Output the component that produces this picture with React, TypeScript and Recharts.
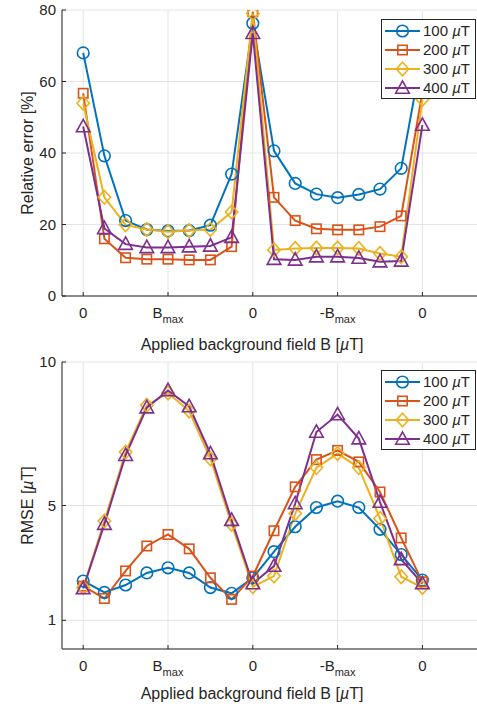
import { LineChart, Line, XAxis, YAxis, CartesianGrid } from 'recharts';

// field steps along the sweep 0 -> Bmax -> 0 -> -Bmax -> 0
const steps = [0, 1, 2, 3, 4, 5, 6, 7, 8, 9, 10, 11, 12, 13, 14, 15, 16];
const xTicks = [0, 4, 8, 12, 16];
const xTickLabels = ['0', 'B|max', '0', '-B|max', '0'];

const amplitudes = [100, 200, 300, 400];

const relErr100 = [68, 39.2, 21.1, 18.6, 18.2, 18.3, 19.8, 34.1, 76.3, 40.6, 31.5, 28.5, 27.5, 28.4, 29.9, 35.7, 68];
const relErr200 = [56.7, 16.0, 10.7, 10.3, 10.3, 10.1, 10.1, 13.8, 79.5, 27.6, 21.1, 18.8, 18.5, 18.5, 19.4, 22.4, 57];
const relErr300 = [53.9, 27.6, 19.9, 18.6, 18.0, 18.3, 18.6, 23.5, 79, 12.9, 13.3, 13.4, 13.4, 13.3, 11.9, 11.0, 55];
const relErr400 = [47.4, 18.9, 14.5, 13.6, 13.6, 13.8, 14.0, 16.4, 73.5, 10.3, 10.1, 11.0, 11.0, 10.6, 9.6, 9.8, 47.8];

const rmse100 = [2.37, 1.97, 2.23, 2.65, 2.83, 2.65, 2.14, 1.94, 2.48, 3.39, 4.26, 4.93, 5.15, 4.93, 4.17, 3.29, 2.4];
const rmse200 = [2.19, 1.76, 2.72, 3.59, 3.99, 3.49, 2.48, 1.73, 2.54, 4.12, 5.65, 6.6, 6.92, 6.52, 5.47, 3.87, 2.34];
const rmse300 = [2.14, 4.46, 6.86, 8.49, 8.92, 8.29, 6.63, 4.35, 2.17, 2.54, 4.72, 6.32, 6.81, 6.32, 4.55, 2.52, 2.14];
const rmse400 = [2.11, 4.35, 6.75, 8.41, 9.01, 8.45, 6.81, 4.49, 2.28, 2.89, 5.07, 7.56, 8.17, 7.33, 5.12, 3.12, 2.28];

const relErrTicks = [0, 20, 40, 60, 80];
const rmseTicks = [1, 5, 10];

const COLORS = ['#0072BD', '#D95319', '#EDB120', '#7E2F8E'];
const SHAPES = ['circle', 'square', 'diamond', 'triangle'];
const AXIS = '#262626';
const GRID = '#e4e4e4';
const FONT = '"Liberation Sans", Arial, Helvetica, sans-serif';

const relErrData = steps.map((s, i) => ({
  step: s,
  a100: relErr100[i],
  a200: relErr200[i],
  a300: relErr300[i],
  a400: relErr400[i],
}));

const rmseData = steps.map((s, i) => ({
  step: s,
  a100: rmse100[i],
  a200: rmse200[i],
  a300: rmse300[i],
  a400: rmse400[i],
}));

function Marker({ shape, color, cx, cy }: { shape: string; color: string; cx: number; cy: number }) {
  const common = { fill: 'none', stroke: color, strokeWidth: 1.6 };
  if (shape === 'circle') return <circle cx={cx} cy={cy} r={5.8} {...common} />;
  if (shape === 'square') return <rect x={cx - 4.7} y={cy - 4.7} width={9.4} height={9.4} {...common} />;
  if (shape === 'diamond')
    return <polygon points={`${cx},${cy - 6.8} ${cx + 6.2},${cy} ${cx},${cy + 6.8} ${cx - 6.2},${cy}`} {...common} />;
  return <polygon points={`${cx},${cy - 7.2} ${cx + 6.8},${cy + 5.2} ${cx - 6.8},${cy + 5.2}`} {...common} />;
}

const makeDot = (shape: string, color: string) => (props: any) => {
  const { cx, cy, index } = props;
  if (cx == null || cy == null) return <g key={index} />;
  return (
    <g key={index}>
      <Marker shape={shape} color={color} cx={cx} cy={cy} />
    </g>
  );
};

const BottomTick = (props: any) => {
  const { x, y, payload } = props;
  const label = xTickLabels[xTicks.indexOf(payload.value)] ?? '';
  const [main, sub] = label.split('|');
  return (
    <g>
      <line x1={x} x2={x} y1={y} y2={y - 4} stroke={AXIS} />
      <text x={x} y={y + 22} textAnchor="middle" fontSize={15} fill={AXIS} fontFamily={FONT}>
        {main}
        {sub && (
          <tspan fontSize={11} dy={5}>
            {sub}
          </tspan>
        )}
      </text>
    </g>
  );
};

const TopTick = (props: any) => {
  const { x, y } = props;
  return <line x1={x} x2={x} y1={y} y2={y + 4} stroke={AXIS} />;
};

const LeftTick = (props: any) => {
  const { x, y, payload } = props;
  return (
    <g>
      <line x1={x} x2={x + 4} y1={y} y2={y} stroke={AXIS} />
      <text x={x - 6} y={y + 5} textAnchor="end" fontSize={15} fill={AXIS} fontFamily={FONT}>
        {payload.value}
      </text>
    </g>
  );
};

function UnitText({ pre }: { pre: string }) {
  return (
    <>
      {pre}[<tspan fontStyle="italic">µ</tspan>T]
    </>
  );
}

function LegendBox({ left, top }: { left: number; top: number }) {
  const rows = [12, 31, 50, 69];
  return (
    <svg
      width={96}
      height={81}
      style={{ position: 'absolute', left, top, overflow: 'visible' }}
    >
      <rect x={0.5} y={0.5} width={94} height={79} fill="#fff" stroke={AXIS} strokeWidth={1} />
      {amplitudes.map((a, i) => (
        <g key={a}>
          <line x1={4} x2={39} y1={rows[i]} y2={rows[i]} stroke={COLORS[i]} strokeWidth={2} />
          <Marker shape={SHAPES[i]} color={COLORS[i]} cx={21.5} cy={rows[i]} />
          <text x={42} y={rows[i] + 5} fontSize={15} fill={AXIS} fontFamily={FONT}>
            {a} <tspan fontStyle="italic">µ</tspan>T
          </text>
        </g>
      ))}
    </svg>
  );
}

function Panel({
  data,
  yDomain,
  yTicks,
  yLabel,
  height,
  xLabelOffset,
}: {
  data: any[];
  yDomain: [number, number];
  yTicks: number[];
  yLabel: React.ReactNode;
  height: number;
  xLabelOffset: number;
}) {
  return (
    <LineChart width={486} height={height} data={data} margin={{ top: 10, right: 0, left: 0, bottom: 0 }}>
      <CartesianGrid stroke={GRID} strokeWidth={1} />
      <XAxis
        dataKey="step"
        type="number"
        domain={[-1, 19]}
        ticks={xTicks}
        allowDataOverflow
        height={62}
        tickSize={0}
        tickMargin={0}
        tickLine={false}
        axisLine={{ stroke: AXIS }}
        tick={<BottomTick />}
        label={{
          content: (p: any) => (
            <text
              x={252}
              y={p.viewBox.y + xLabelOffset}
              textAnchor="middle"
              fontSize={16}
              fill={AXIS}
              fontFamily={FONT}
            >
              <UnitText pre="Applied background field B " />
            </text>
          ),
        }}
      />
      <XAxis
        xAxisId="top"
        orientation="top"
        dataKey="step"
        type="number"
        domain={[-1, 19]}
        ticks={xTicks}
        allowDataOverflow
        height={0}
        tickSize={0}
        tickMargin={0}
        tickLine={false}
        axisLine={{ stroke: AXIS }}
        tick={<TopTick />}
      />
      <YAxis
        type="number"
        domain={yDomain}
        ticks={yTicks}
        allowDataOverflow
        width={62}
        tickSize={0}
        tickMargin={0}
        tickLine={false}
        axisLine={{ stroke: AXIS }}
        tick={<LeftTick />}
        label={{
          content: (p: any) => {
            const cx = 27;
            const cy = p.viewBox.y + p.viewBox.height / 2;
            return (
              <text
                x={cx}
                y={cy}
                transform={`rotate(-90 ${cx} ${cy})`}
                textAnchor="middle"
                dominantBaseline="central"
                fontSize={16}
                fill={AXIS}
                fontFamily={FONT}
              >
                {yLabel}
              </text>
            );
          },
        }}
      />
      {amplitudes.map((a, i) => (
        <Line
          key={a}
          type="linear"
          dataKey={`a${a}`}
          stroke={COLORS[i]}
          strokeWidth={2}
          dot={makeDot(SHAPES[i], COLORS[i])}
          activeDot={false}
          isAnimationActive={false}
        />
      ))}
    </LineChart>
  );
}

export default function App() {
  return (
    <div
      style={{
        position: 'absolute',
        left: 0,
        top: 0,
        width: 477,
        height: 711,
        overflow: 'hidden',
        background: '#fff',
        fontFamily: FONT,
      }}
    >
      <div style={{ position: 'absolute', left: 0, top: 0 }}>
        <Panel
          data={relErrData}
          yDomain={[0, 80]}
          yTicks={relErrTicks}
          yLabel="Relative error [%]"
          height={358}
          xLabelOffset={54}
        />
      </div>
      <div style={{ position: 'absolute', left: 0, top: 352 }}>
        <Panel
          data={rmseData}
          yDomain={[0, 10]}
          yTicks={rmseTicks}
          yLabel={<UnitText pre="RMSE " />}
          height={359}
          xLabelOffset={50}
        />
      </div>
      <LegendBox left={381} top={19} />
      <LegendBox left={381} top={370} />
    </div>
  );
}
